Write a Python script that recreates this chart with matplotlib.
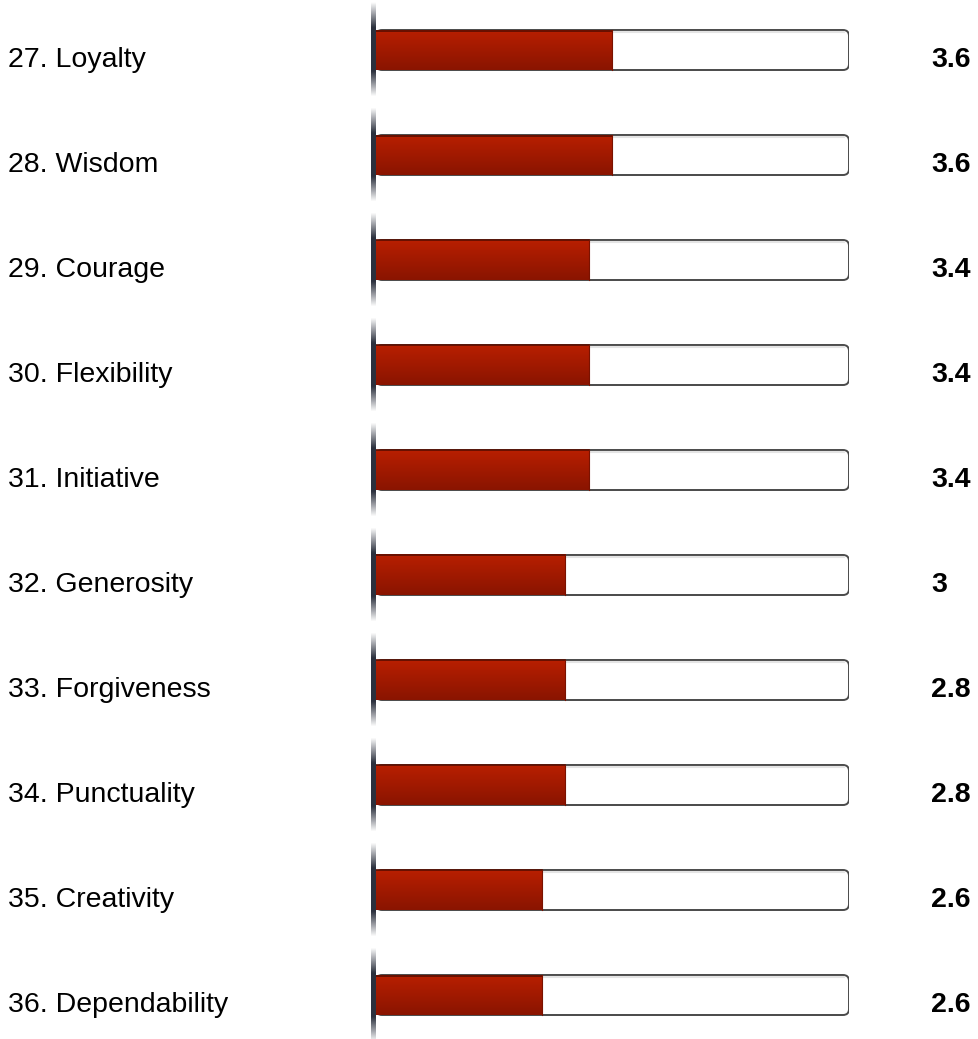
import numpy as np
import matplotlib.pyplot as plt
from matplotlib.patches import FancyBboxPatch
from matplotlib.transforms import blended_transform_factory

labels = ["27. Loyalty", "28. Wisdom", "29. Courage", "30. Flexibility", "31. Initiative",
          "32. Generosity", "33. Forgiveness", "34. Punctuality", "35. Creativity", "36. Dependability"]
values = ["3.6", "3.6", "3.4", "3.4", "3.4", "3", "2.8", "2.8", "2.6", "2.6"]
fill_pct = [50, 50, 45, 45, 45, 40, 40, 40, 35, 35]

plt.rcParams['font.family'] = ['Liberation Sans', 'DejaVu Sans']

W, H = 979, 1039
fig = plt.figure(figsize=(W / 100, H / 100), dpi=100)
ax = fig.add_axes([376 / W, 0, 473 / W, 1])
ax.set_xlim(0, 100)
# row centres at 50px + 105px * i
ax.set_ylim((H - 50) / 105, -50 / 105)
ax.axis("off")

n = len(labels)
bh = 40 / 105
px_x = 100 / 473      # data units per pixel along x
px_y = 1 / 105        # data units per pixel along y

# red gradient used for the filled part
grad = np.linspace(0, 1, 50).reshape(-1, 1)
top = np.array([0.72, 0.12, 0.0])
bot = np.array([0.54, 0.08, 0.0])
red_img = top + (bot - top) * grad[..., None]
red_img = red_img.reshape(50, 1, 3)

# fading axis line
prof = np.linspace(-0.5, 0.5, 200)
alpha = np.clip((47 - np.abs(prof * 105)) / 25, 0, 1)
line_img = np.zeros((200, 1, 4))
line_img[..., :3] = [0.17, 0.19, 0.24]
line_img[:, 0, 3] = alpha

for i in range(n):
    y0 = i - bh / 2
    # white box with rounded corners
    box = FancyBboxPatch((0, y0), 100, bh,
                         boxstyle="round,pad=0,rounding_size=%f" % (6 * px_x),
                         mutation_aspect=px_y / px_x,
                         fc="white", ec="#4a4a4a", lw=1.4, zorder=2)
    ax.add_patch(box)
    # subtle inner shade
    ax.plot([0, 99], [y0 + 2 * px_y, y0 + 2 * px_y], color="#e4e4e4", lw=1.5, zorder=2.5)
    ax.imshow(red_img, extent=(0, fill_pct[i], i + bh / 2, y0), aspect="auto",
              zorder=3, interpolation="bilinear")
    ax.plot([0, fill_pct[i]], [y0 + 0.5 * px_y] * 2, color="#5a0e00", lw=1.2, zorder=3.5)
    ax.plot([fill_pct[i]] * 2, [y0, i + bh / 2], color="#7a1200", lw=0.8, zorder=3.5)
    ax.imshow(line_img, extent=(-4.5 * px_x, 0, i + 0.5, i - 0.5), aspect="auto",
              zorder=4, interpolation="bilinear", clip_on=False)

tr = blended_transform_factory(fig.transFigure, ax.transData)
for i in range(n):
    ax.text(8 / W, i + 10 * px_y, labels[i], transform=tr, fontsize=20.5,
            va="center", ha="left", color="black")
    ax.text(931 / W, i + 10 * px_y, values[i], transform=tr, fontsize=20.5,
            fontweight="bold", va="center", ha="left", color="black")

plt.savefig("out.png", dpi=100)
